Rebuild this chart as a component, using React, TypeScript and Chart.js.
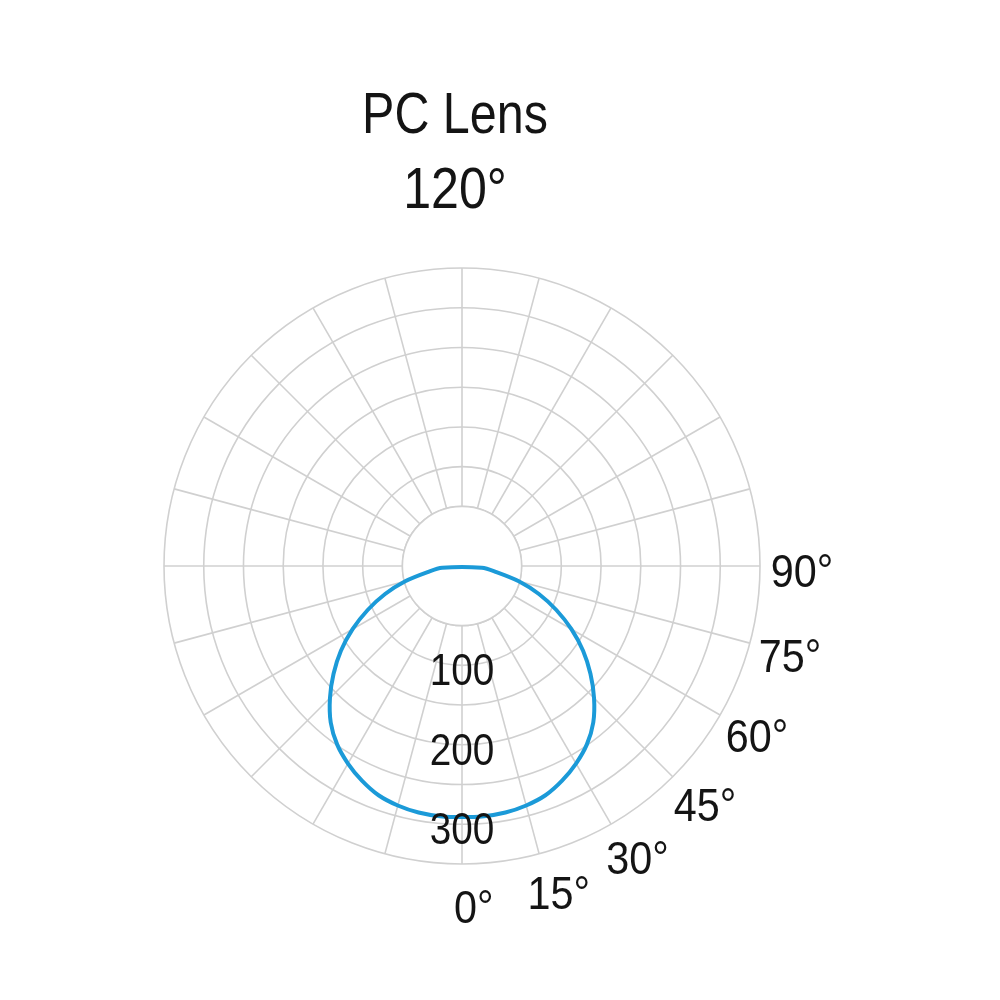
import React, { useEffect, useRef } from "react";
import { Chart, registerables } from "chart.js";

Chart.register(...registerables);

// ---- data ----
const TITLE_LINES = ["PC Lens", "120°"];
// gamma angle from nadir (degrees) and luminous intensity
const GAMMA = [0, 5, 10, 15, 20, 25, 30, 35, 40, 45, 50, 55, 60, 65, 70, 75, 80, 85];
const INTENSITY = [291, 291, 290, 287, 282, 273, 262, 249, 232, 210, 186, 161, 134, 106, 78, 49, 19, 0];
const RING_VALUES = [50, 100, 150, 200, 250, 300, 350];
const RING_LABELS = [100, 200, 300];
const ANGLE_LABELS = [0, 15, 30, 45, 60, 75, 90];
const SCALE_MIN = -25;
const SCALE_MAX = 350;
const STEP_DEG = 5;

const GRID = "#d0d0d0";
const CURVE = "#1b9ad8";
const TEXT = "#141414";
const FONT = '"Liberation Sans", Arial, Helvetica, sans-serif';

// full circle of directions, index 0 at nadir, going clockwise
const DIRECTIONS: number[] = [];
for (let a = 0; a < 360; a += STEP_DEG) DIRECTIONS.push(a);

function intensityAt(dir: number): number | null {
  const g = dir <= 180 ? dir : 360 - dir;
  const i = GAMMA.indexOf(g);
  return i >= 0 ? INTENSITY[i] : null;
}

function drawText(
  ctx: CanvasRenderingContext2D,
  text: string,
  x: number,
  y: number,
  size: number,
  sx: number
) {
  ctx.save();
  ctx.translate(x, y);
  ctx.scale(sx, 1);
  ctx.font = `${size}px ${FONT}`;
  ctx.fillStyle = TEXT;
  ctx.textAlign = "center";
  ctx.textBaseline = "alphabetic";
  ctx.fillText(text, 0, 0);
  ctx.restore();
}

const polarDecor = {
  id: "polarDecor",
  beforeDatasetsDraw(chart: any) {
    const s = chart.scales.r;
    const ctx: CanvasRenderingContext2D = chart.ctx;
    const rHole = s.getDistanceFromCenterForValue(RING_VALUES[0]);
    ctx.save();
    ctx.beginPath();
    ctx.arc(s.xCenter, s.yCenter, rHole, 0, Math.PI * 2);
    ctx.fillStyle = "#ffffff";
    ctx.fill();
    ctx.strokeStyle = GRID;
    ctx.lineWidth = 1.5;
    ctx.stroke();
    ctx.restore();
  },
  afterDatasetsDraw(chart: any) {
    const s = chart.scales.r;
    const ctx: CanvasRenderingContext2D = chart.ctx;
    // ring value labels along the nadir axis
    RING_LABELS.forEach((v) => {
      const r = s.getDistanceFromCenterForValue(v);
      drawText(ctx, String(v), s.xCenter, s.yCenter + r + 20, 44, 0.88);
    });
    // angle labels on the right side
    const rl = s.drawingArea + 42;
    ANGLE_LABELS.forEach((g) => {
      const th = ((g + 2 - g * 0.03) * Math.PI) / 180;
      const x = s.xCenter + rl * Math.sin(th);
      const y = s.yCenter + rl * Math.cos(th);
      drawText(ctx, `${g}°`, x, y + 17, 47, 0.88);
    });
    // title
    drawText(ctx, TITLE_LINES[0], 455, 133, 57, 0.85);
    drawText(ctx, TITLE_LINES[1], 455, 208, 57, 0.88);
  },
};

export default function App() {
  const ref = useRef<HTMLCanvasElement | null>(null);

  useEffect(() => {
    if (!ref.current) return;
    const chart = new Chart(ref.current, {
      type: "radar",
      data: {
        labels: DIRECTIONS.map((d) => `${d}°`),
        datasets: [
          {
            label: "PC Lens 120°",
            data: DIRECTIONS.map(intensityAt) as any,
            borderColor: CURVE,
            borderWidth: 4,
            pointRadius: 0,
            pointHoverRadius: 0,
            fill: false,
            tension: 0.3,
            spanGaps: true,
          },
        ],
      },
      options: {
        responsive: false,
        animation: false,
        layout: { padding: { left: 164, right: 240, top: 268, bottom: 136 } },
        plugins: {
          legend: { display: false },
          tooltip: { enabled: false },
          title: { display: false },
        },
        scales: {
          r: {
            min: SCALE_MIN,
            max: SCALE_MAX,
            startAngle: 180,
            afterBuildTicks: (scale: any) => {
              scale.ticks = RING_VALUES.map((v) => ({ value: v }));
            },
            ticks: { display: false },
            pointLabels: { display: false },
            grid: { circular: true, color: GRID, lineWidth: 1.6 },
            angleLines: {
              display: true,
              color: (c: any) => (c.index % 3 === 0 ? GRID : "rgba(0,0,0,0)"),
              lineWidth: 1.6,
            },
          },
        },
      } as any,
      plugins: [polarDecor],
    });
    return () => chart.destroy();
  }, []);

  return (
    <div
      style={{
        position: "fixed",
        left: 0,
        top: 0,
        width: 1000,
        height: 1000,
        background: "#ffffff",
      }}
    >
      <canvas ref={ref} width={1000} height={1000} style={{ display: "block" }} />
    </div>
  );
}
